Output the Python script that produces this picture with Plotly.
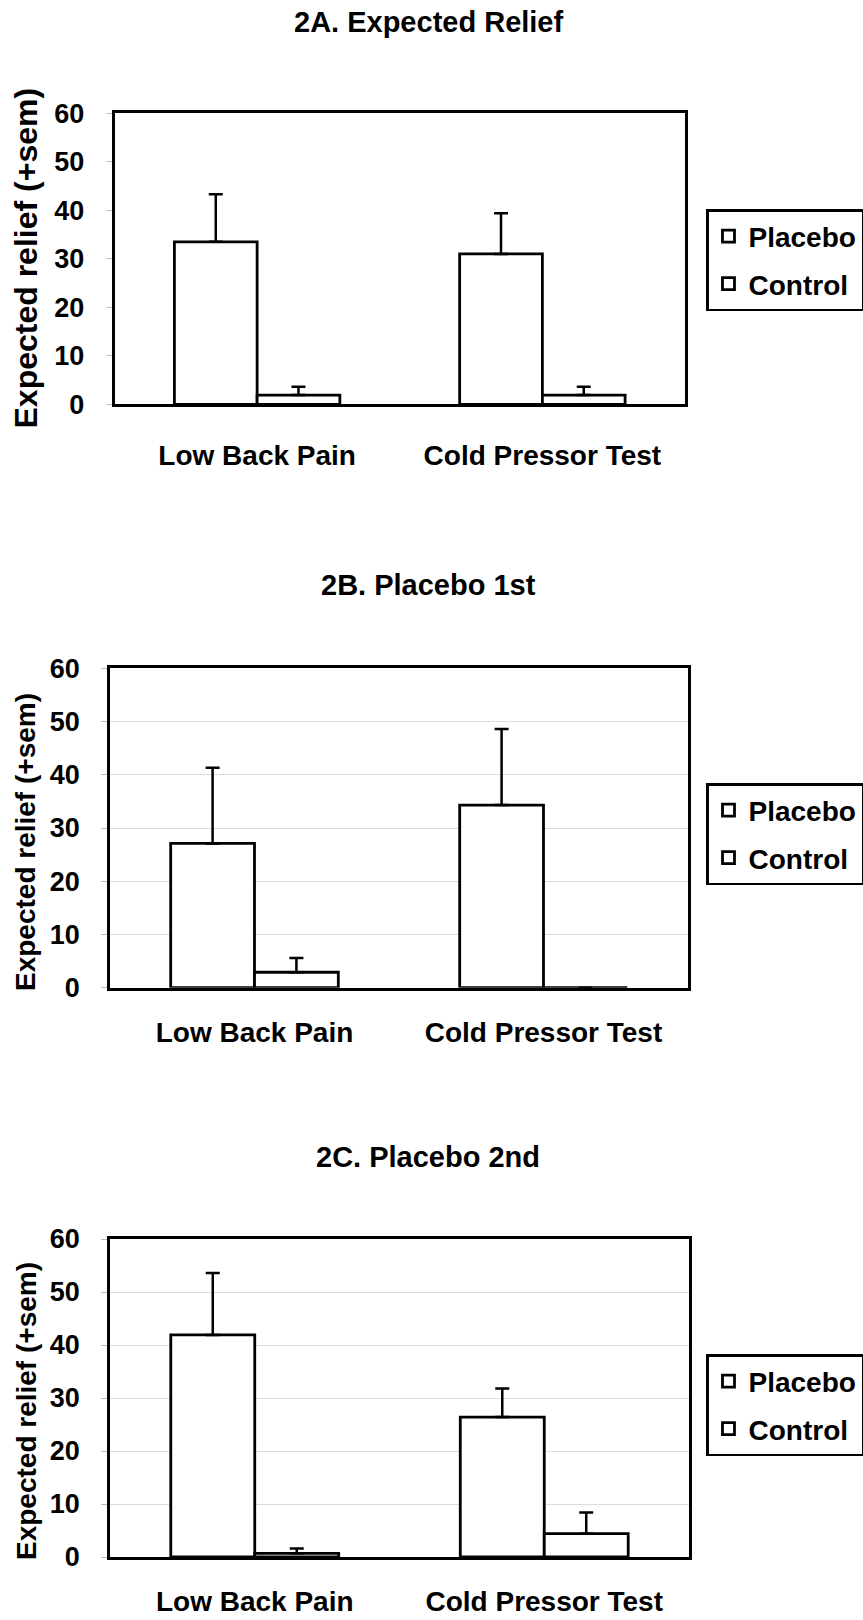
import plotly.graph_objects as go

# ---------------- data ----------------
categories = ["Low Back Pain", "Cold Pressor Test"]
series_names = ["Placebo", "Control"]
panel_titles = ["2A. Expected Relief", "2B. Placebo 1st", "2C. Placebo 2nd"]
y_title = "Expected relief (+sem)"
y_ticks = [0, 10, 20, 30, 40, 50, 60]

a_placebo = [33.5, 31.0]
a_placebo_sem = [9.8, 8.4]
a_control = [1.9, 1.9]
a_control_sem = [1.7, 1.7]

b_placebo = [27.1, 34.3]
b_placebo_sem = [14.2, 14.3]
b_control = [2.9, 0.0]
b_control_sem = [2.7, None]

c_placebo = [41.9, 26.4]
c_placebo_sem = [11.7, 5.4]
c_control = [0.7, 4.4]
c_control_sem = [0.9, 4.0]

panels_data = [
    (a_placebo, a_placebo_sem, a_control, a_control_sem),
    (b_placebo, b_placebo_sem, b_control, b_control_sem),
    (c_placebo, c_placebo_sem, c_control, c_control_sem),
]

# ---------------- layout geometry (pixels) ----------------
W, H = 863, 1620
FONT = "Liberation Sans, Arial, Helvetica, sans-serif"

geom = [
    dict(x0=114.5, x1=685, top=113.3, bottom=404.3, title_y=22, ytitle_y=258.5,
         ytitle_size=32, leg_top=209, cat_standoff=24, grid=False),
    dict(x0=110, x1=688, top=668.3, bottom=987.7, title_y=585, ytitle_y=842,
         ytitle_size=28, leg_top=783, cat_standoff=18, grid=True),
    dict(x0=110, x1=689, top=1239, bottom=1557, title_y=1157, ytitle_y=1411,
         ytitle_size=28, leg_top=1354, cat_standoff=18, grid=True),
]


def px_x(v):
    return v / W


def px_y(v):
    return 1 - v / H


fig = go.Figure()
layout_updates = {}
annotations = []

for i, (g, data) in enumerate(zip(geom, panels_data)):
    sfx = "" if i == 0 else str(i + 1)
    xa, ya = "x" + sfx, "y" + sfx
    leg = "legend" + sfx
    for name, vals, sem in zip(series_names, data[0::2], data[1::2]):
        fig.add_trace(go.Bar(
            x=categories, y=vals, name=name,
            marker=dict(color="white", line=dict(color="black", width=2.8)),
            error_y=dict(type="data", array=sem, arrayminus=[0] * len(vals),
                         symmetric=False, color="black", thickness=2.5, width=7),
            xaxis=xa, yaxis=ya, legend=leg, legendgroup=f"{name}{i}",
            showlegend=True,
        ))

    layout_updates["xaxis" + sfx] = dict(
        domain=[px_x(g["x0"]), px_x(g["x1"])], anchor=ya,
        showline=True, mirror=True, linecolor="black", linewidth=2.5,
        ticks="", showgrid=False, zeroline=False,
        tickfont=dict(family=FONT, size=28, color="black", weight="bold"),
        ticklabelstandoff=g["cat_standoff"], fixedrange=True,
    )
    layout_updates["yaxis" + sfx] = dict(
        domain=[px_y(g["bottom"]), px_y(g["top"])], anchor=xa,
        range=[0, 60], tickvals=y_ticks, ticktext=[str(t) for t in y_ticks],
        showline=True, mirror=True, linecolor="black", linewidth=2.5,
        ticks="outside", ticklen=6, tickcolor="#bdbdbd", tickwidth=1,
        showgrid=g["grid"], gridcolor="#dcdcdc", gridwidth=1,
        zeroline=False,
        tickfont=dict(family=FONT, size=27, color="black", weight="bold"),
        ticklabelstandoff=16, fixedrange=True,
    )
    layout_updates[leg] = dict(
        x=px_x(706), y=px_y(g["leg_top"]), xanchor="left", yanchor="top",
        bordercolor="black", borderwidth=2.5, bgcolor="white",
        font=dict(family=FONT, size=28, color="black", weight="bold"),
        tracegroupgap=8,
    )
    annotations.append(dict(
        text=panel_titles[i], x=px_x(428), y=px_y(g["title_y"]),
        xref="paper", yref="paper", xanchor="center", yanchor="middle",
        showarrow=False,
        font=dict(family=FONT, size=29, color="black", weight="bold"),
    ))
    annotations.append(dict(
        text=y_title, x=px_x(26), y=px_y(g["ytitle_y"]),
        xref="paper", yref="paper", xanchor="center", yanchor="middle",
        textangle=-90, showarrow=False,
        font=dict(family=FONT, size=g["ytitle_size"], color="black", weight="bold"),
    ))

fig.update_layout(
    width=W, height=H,
    margin=dict(l=0, r=0, t=0, b=0, autoexpand=False),
    paper_bgcolor="white", plot_bgcolor="white",
    barmode="group", bargap=0.42, bargroupgap=0,
    font=dict(family=FONT, color="black", weight="bold"),
    annotations=annotations,
    **layout_updates,
)

fig.write_html("out.html")
